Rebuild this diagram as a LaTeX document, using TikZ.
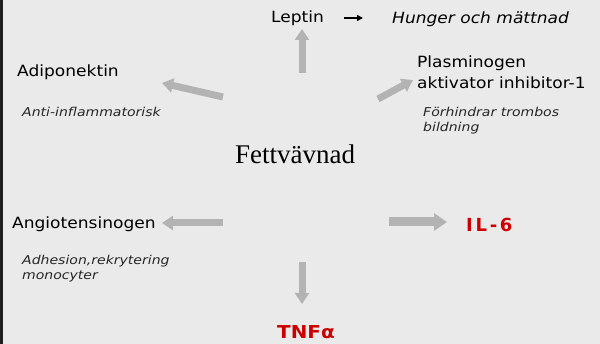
\documentclass[tikz,border=0pt]{standalone}
\usepackage{fontspec}
\setmainfont{Liberation Serif}
\newfontfamily\vfont[FakeStretch=1.1]{DejaVu Sans}
\newfontfamily\nfont[FakeStretch=1.15]{DejaVu Sans}
\newfontfamily\rfont[FakeStretch=1.12]{DejaVu Sans}
\newfontfamily\ifont[LetterSpace=15]{DejaVu Sans}
\usetikzlibrary{arrows.meta}
\definecolor{bg}{HTML}{EAEAEA}
\definecolor{garrow}{HTML}{B3B3B3}
\definecolor{redt}{HTML}{CC0000}
\begin{document}
\begin{tikzpicture}[x=1pt,y=-1pt,
  lbl/.style={font=\vfont\fontsize{15.5}{18}\selectfont, inner sep=0pt, anchor=base west, text=black},
  note/.style={font=\nfont\itshape\fontsize{12.2}{15}\selectfont, inner sep=0pt, anchor=base west, text=black!85},
  hnote/.style={font=\vfont\itshape\fontsize{15.5}{18}\selectfont, inner sep=0pt, anchor=base west},
  redlbl/.style={font=\rfont\bfseries\fontsize{17.8}{20}\selectfont, inner sep=0pt, anchor=base west, text=redt},
  garr/.style={draw=garrow, line width=7pt, -{Triangle[length=11pt,width=14pt]}},
  garrb/.style={draw=garrow, line width=9pt, -{Triangle[length=13pt,width=17pt]}},
  karr/.style={draw=black, line width=1.3pt, -{Triangle[length=6pt,width=6pt]}}
]
\useasboundingbox (0,0) rectangle (600,344);
\fill[bg] (0,0) rectangle (600,344);
\fill[black!88] (0,0) rectangle (3,344);

\node[font=\fontsize{27}{30}\selectfont, inner sep=0pt, anchor=base west] (fett) at (235,164) {Fettvävnad};

\node[lbl] (leptin) at (271,23) {Leptin};
\node[hnote] (hunger) at (392,24) {Hunger och mättnad};
\node[lbl] (adipo) at (17,77) {Adiponektin};
\node[note] (anti) at (22,117) {Anti-inflammatorisk};
\node[lbl] (plas1) at (417,68) {Plasminogen};
\node[lbl] (plas2) at (417,89) {aktivator inhibitor-1};
\node[note] (forh1) at (423,117) {Förhindrar trombos};
\node[note] (forh2) at (423,132) {bildning};
\node[lbl] (angio) at (12,229) {Angiotensinogen};
\node[note] (adh1) at (22,265) {Adhesion,rekrytering};
\node[note] (adh2) at (22,280) {monocyter};
\node[font=\ifont\bfseries\fontsize{18}{20}\selectfont, inner sep=0pt, anchor=base west, text=redt] (il6) at (466,232) {IL-6};
\node[redlbl] (tnf) at (277,339) {TNFα};

\coordinate (upS) at (302,73);
\coordinate (upE) at (302,29);
\coordinate (adS) at (223,97);
\coordinate (adE) at (162,83);
\coordinate (paS) at (378,99);
\coordinate (paE) at (413,80);
\coordinate (anS) at (223,223);
\coordinate (anE) at (162,223);
\coordinate (ilS) at (389,222);
\coordinate (ilE) at (447,222);
\coordinate (dnS) at (302,262);
\coordinate (dnE) at (302,304);
\coordinate (kS) at (344,18);
\coordinate (kE) at (363,18);

\draw[garr] (upS) -- (upE);
\draw[garr] (adS) -- (adE);
\draw[garr] (paS) -- (paE);
\draw[garr] (anS) -- (anE);
\draw[garrb] (ilS) -- (ilE);
\draw[garr] (dnS) -- (dnE);
\draw[karr] (kS) -- (kE);
\end{tikzpicture}
\end{document}
